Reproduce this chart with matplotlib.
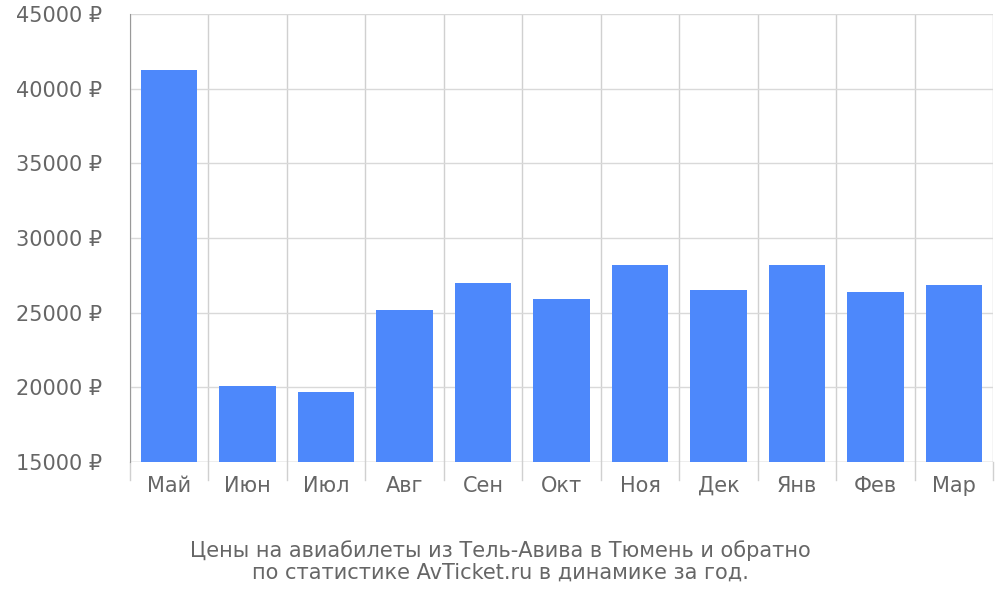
import matplotlib.pyplot as plt
import numpy as np

months = ["Май", "Июн", "Июл", "Авг", "Сен", "Окт", "Ноя", "Дек", "Янв", "Фев", "Мар"]
prices = [41250, 20090, 19690, 25180, 26950, 25920, 28200, 26480, 28200, 26390, 26830]
yticks = [15000, 20000, 25000, 30000, 35000, 40000, 45000]

grey = "#666666"
fig = plt.figure(figsize=(10, 6), dpi=100)
ax = fig.add_axes([0.13, 0.23, 0.863, 0.747])

x = np.arange(len(months))
ax.bar(x, np.array(prices) - 15000, bottom=15000, width=0.72, color="#4d88fb", zorder=3)

ax.set_xlim(-0.5, len(months) - 0.5)
ax.set_ylim(15000, 45000)
ax.set_yticks(yticks)
ax.set_yticklabels([f"{v} ₽" for v in yticks], fontsize=15, color=grey)
ax.set_xticks(x)
ax.set_xticklabels(months, fontsize=15, color=grey)
ax.tick_params(axis="y", length=0, pad=20)
ax.tick_params(axis="x", length=0, pad=10)

# vertical grid at category borders, extending below the axis
for b in np.arange(-0.5, len(months), 1.0):
    ax.plot([b, b], [15000, 45000], color="#d0d0d0", lw=1, zorder=1)
    ax.plot([b, b], [15000, 13800], color="#d0d0d0", lw=1, clip_on=False)
ax.grid(axis="y", color="#d9d9d9", lw=1, zorder=1)

for s in ["top", "right", "bottom"]:
    ax.spines[s].set_visible(False)
ax.spines["left"].set_color("#999999")
ax.plot([-0.5, len(months) - 0.5], [15000, 15000], color="#cccccc", lw=1, zorder=2)

fig.text(0.5, 0.065, "Цены на авиабилеты из Тель-Авива в Тюмень и обратно\nпо статистике AvTicket.ru в динамике за год.",
         ha="center", va="center", fontsize=15, color=grey, linespacing=1.1)

fig.savefig("out.png", dpi=100)
